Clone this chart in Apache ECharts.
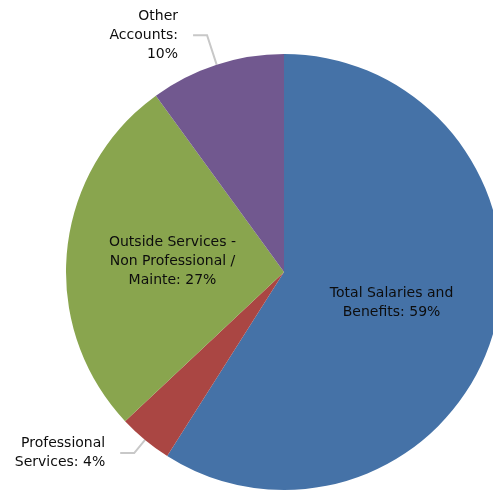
<!DOCTYPE html>
<html>
<head>
<meta charset="utf-8">
<script src="https://cdn.jsdelivr.net/npm/echarts@6/dist/echarts.min.js"></script>
<style>
  html, body { margin: 0; padding: 0; background: #ffffff; }
  #chart { width: 493px; height: 490px; }
</style>
</head>
<body>
<div id="chart"></div>
<script>
// Expense breakdown, clockwise from 12 o'clock
const categories = [
  'Total Salaries and Benefits',
  'Professional Services',
  'Outside Services - Non Professional / Mainte',
  'Other Accounts'
];
const shares = [59, 4, 27, 10];
const sliceColors = ['#4572A7', '#AA4643', '#89A54E', '#71588F'];

// Text shown for each slice (line breaks as drawn)
const labelText = [
  'Total Salaries and\nBenefits: 59%',
  'Professional\nServices: 4%',
  'Outside Services -\nNon Professional /\nMainte: 27%',
  'Other\nAccounts:\n10%'
];
// Slices whose label sits outside with a leader line
const outsideLines = {
  1: { length: 17, length2: 14 },
  3: { length: 31, length2: 14 }
};

const baseFont = {
  fontFamily: 'DejaVu Sans',
  fontSize: 14,
  lineHeight: 19,
  color: '#0d0d0d'
};

const data = categories.map((name, i) => {
  const item = {
    name: name,
    value: shares[i],
    itemStyle: { color: sliceColors[i] }
  };
  if (outsideLines[i]) {
    item.label = Object.assign({
      show: true,
      position: 'outside',
      formatter: labelText[i],
      align: 'right',
      distanceToLabelLine: 15
    }, baseFont);
    item.labelLine = {
      show: true,
      length: outsideLines[i].length,
      length2: outsideLines[i].length2,
      lineStyle: { color: '#c8c8c8', width: 2 }
    };
  } else {
    item.label = Object.assign({
      show: true,
      position: 'inside',
      formatter: labelText[i],
      align: 'center'
    }, baseFont);
    item.labelLine = { show: false };
  }
  return item;
});

const chart = echarts.init(document.getElementById('chart'), null, { renderer: 'canvas' });
chart.setOption({
  animation: false,
  backgroundColor: '#ffffff',
  series: [{
    type: 'pie',
    center: [284, 272],
    radius: 218,
    startAngle: 90,
    clockwise: true,
    avoidLabelOverlap: false,
    itemStyle: { borderWidth: 0 },
    emphasis: { disabled: true },
    data: data
  }]
});
</script>
</body>
</html>
